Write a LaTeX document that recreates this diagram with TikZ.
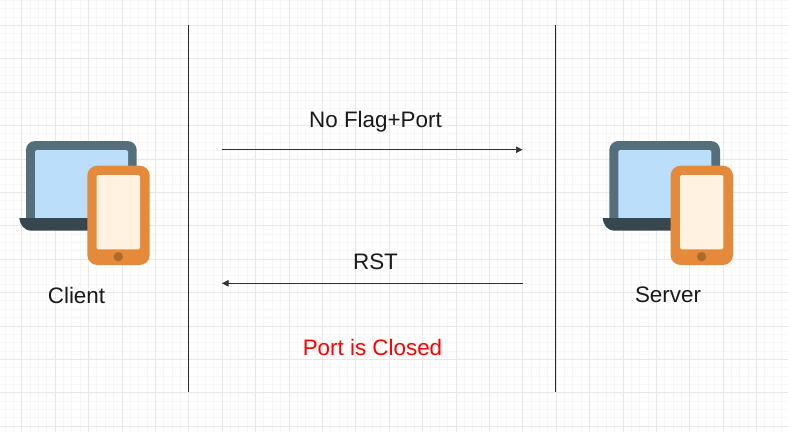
\documentclass[tikz,border=0pt]{standalone}
\usepackage{fontspec}
\setmainfont{Liberation Sans}
\usetikzlibrary{arrows.meta}
\definecolor{gridmajor}{HTML}{E8E8E8}
\definecolor{gridminor}{HTML}{F7F7F7}
\definecolor{laptopframe}{HTML}{546E7A}
\definecolor{laptopbase}{HTML}{37474F}
\definecolor{laptopscreen}{HTML}{BBDEFB}
\definecolor{phoneframe}{HTML}{E58A3A}
\definecolor{phonescreen}{HTML}{FFF2E0}
\definecolor{phonebutton}{HTML}{AD6A2E}
\tikzset{
  x=1pt,y=-1pt,
  lifeline/.style={draw=black!85,line width=1pt},
  message/.style={draw=black!80,line width=0.6pt,-{Triangle[length=6.5pt,width=6.5pt]}},
  label/.style={font=\fontsize{22.4}{26}\selectfont,text=black!90,inner sep=0pt},
  alert/.style={label,text=red},
  device/.pic={
    \fill[laptopframe] (26,219) [rounded corners=9pt] -- (26,141) -- (136.7,141) [sharp corners] -- (136.7,219) -- cycle;
    \fill[laptopscreen] (35,219) [rounded corners=1.5pt] -- (35,150) -- (128,150) [sharp corners] -- (128,219) -- cycle;
    \fill[laptopbase] (19.3,218) -- (110,218) -- (110,230.7) -- (32,230.7) .. controls (24,230.7) and (20,225) .. (19.3,218) -- cycle;
    \fill[phoneframe,rounded corners=10pt] (87.3,165.7) rectangle (149.7,265);
    \fill[phonescreen,rounded corners=1.5pt] (96.7,175) rectangle (140,249.3);
    \fill[phonebutton] (118.3,256.7) circle[radius=4.7];
  }
}
\begin{document}
\begin{tikzpicture}
\useasboundingbox (0,0) rectangle (788,432);
\fill[white] (0,0) rectangle (788,432);
\foreach \i in {-3,...,94} {
  \draw[gridminor,line width=0.8pt] ({21.7+8.35*\i},0) -- ++(0,432);
}
\foreach \i in {-3,...,52} {
  \draw[gridminor,line width=0.8pt] (0,{25.3+8.35*\i}) -- ++(788,0);
}
\foreach \i in {0,...,23} {
  \draw[gridmajor,line width=0.8pt] ({21.7+33.4*\i},0) -- ++(0,432);
}
\foreach \i in {0,...,12} {
  \draw[gridmajor,line width=0.8pt] (0,{25.3+33.4*\i}) -- ++(788,0);
}
\pic at (0,0) {device};
\pic at (583.3,0) {device};
\coordinate (clientTop) at (188.5,25);
\coordinate (clientEnd) at (188.5,391.5);
\coordinate (serverTop) at (555.5,25);
\coordinate (serverEnd) at (555.5,391.5);
\coordinate (reqStart) at (222,149.7);
\coordinate (reqEnd) at (522.5,149.7);
\coordinate (rstStart) at (522.5,283.3);
\coordinate (rstEnd) at (222,283.3);
\draw[lifeline] (clientTop) -- (clientEnd);
\draw[lifeline] (serverTop) -- (serverEnd);
\draw[message] (reqStart) -- (reqEnd);
\draw[message] (rstStart) -- (rstEnd);
\node[label] (client) at (76.5,295) {Client};
\node[label] (server) at (668,295) {Server};
\node[label] (noflag) at (375.5,122) {No Flag+Port};
\node[label] (rst) at (375.5,262) {RST};
\node[alert] (closed) at (372.5,347.5) {Port is Closed};
\end{tikzpicture}
\end{document}
